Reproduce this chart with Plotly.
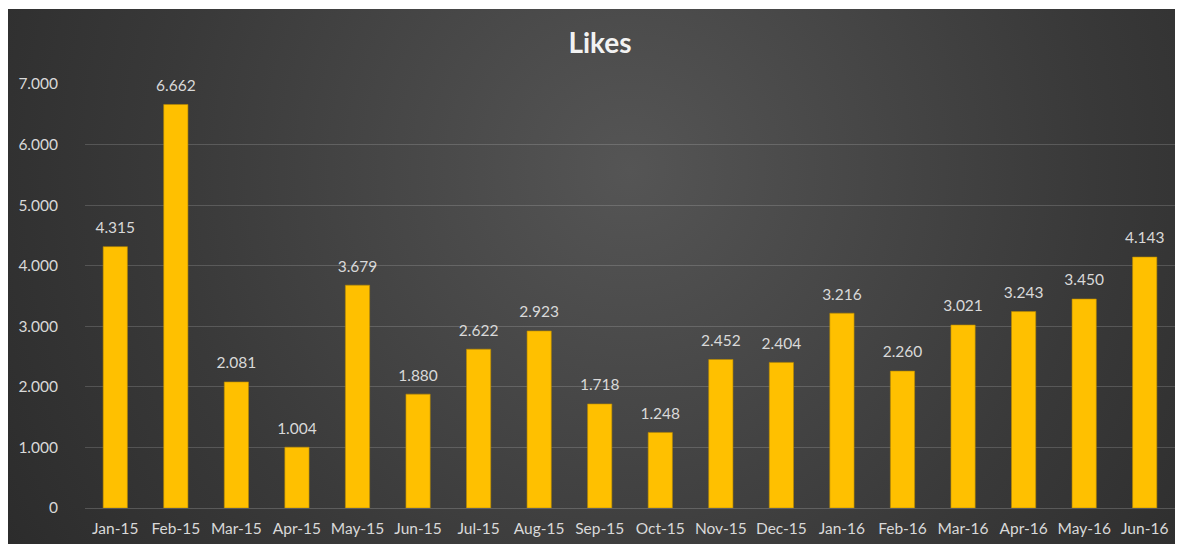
import base64
import plotly.graph_objects as go

months = ["Jan-15", "Feb-15", "Mar-15", "Apr-15", "May-15", "Jun-15", "Jul-15", "Aug-15",
          "Sep-15", "Oct-15", "Nov-15", "Dec-15", "Jan-16", "Feb-16", "Mar-16", "Apr-16",
          "May-16", "Jun-16"]
likes = [4315, 6662, 2081, 1004, 3679, 1880, 2622, 2923, 1718, 1248, 2452, 2404,
         3216, 2260, 3021, 3243, 3450, 4143]
y_ticks = [0, 1000, 2000, 3000, 4000, 5000, 6000, 7000]
y_tick_text = ["0", "1.000", "2.000", "3.000", "4.000", "5.000", "6.000", "7.000"]

# page has an 8px body margin, so the figure is placed at (8, 8)
W, H = 1175, 536
L, R, T, B = 77, 8, 76, 36
PW, PH = W - L - R, H - T - B
box_x0, box_x1, box_y0, box_y1 = 0, 1172, 1, 536

svg = f'''<svg xmlns="http://www.w3.org/2000/svg" width="{box_x1-box_x0}" height="{box_y1-box_y0}" preserveAspectRatio="none">
<defs><radialGradient id="g" cx="0.53" cy="0.3" r="0.72" gradientTransform="translate(0.53,0.3) scale(1,2.2) translate(-0.53,-0.3)">
<stop offset="0" stop-color="#555555"/>
<stop offset="0.55" stop-color="#393939"/>
<stop offset="1" stop-color="#262626"/>
</radialGradient></defs>
<rect width="100%" height="100%" fill="url(#g)"/>
</svg>'''
src = "data:image/svg+xml;base64," + base64.b64encode(svg.encode()).decode()

FONT = "Lato, Open Sans, sans-serif"

fig = go.Figure()
fig.add_trace(go.Bar(
    x=months, y=likes,
    marker=dict(color="#FFC000", line=dict(color="#B88A00", width=0.6)),
    hoverinfo="x+y",
))
fig.add_trace(go.Scatter(
    x=months, y=likes, mode="markers+text",
    marker=dict(size=14, opacity=0),
    text=[f"{v:,}".replace(",", ".") for v in likes], textposition="top center",
    textfont=dict(color="#D9D9D9", size=15.5, family=FONT),
    hoverinfo="skip", cliponaxis=False,
))

fig.update_layout(
    width=W, height=H,
    paper_bgcolor="white", plot_bgcolor="rgba(0,0,0,0)",
    margin=dict(l=L, r=R, t=T, b=B),
    separators=",.",
    bargap=0.6,
    showlegend=False,
    title=dict(text="<b>Likes</b>", x=592 / W, xanchor="center", y=1 - 35 / H, yanchor="middle",
               font=dict(color="#F2F2F2", size=28, family=FONT)),
    font=dict(family=FONT, color="#D9D9D9", size=15.5),
    images=[dict(source=src, xref="paper", yref="paper",
                 x=(box_x0 - L) / PW, y=1 + (T - box_y0) / PH,
                 sizex=(box_x1 - box_x0) / PW, sizey=(box_y1 - box_y0) / PH,
                 xanchor="left", yanchor="top", sizing="stretch", layer="below")],
)
fig.update_xaxes(range=[-0.5, len(months) - 0.5], showgrid=False, showline=True,
                 linecolor="rgba(255,255,255,0.18)", linewidth=1,
                 ticks="", ticklabelstandoff=6, tickfont=dict(size=15.5, color="#D9D9D9"))
fig.update_yaxes(range=[0, 7000], tickvals=y_ticks, ticktext=y_tick_text,
                 showgrid=True, gridcolor="rgba(255,255,255,0.16)", gridwidth=1,
                 zeroline=False, ticks="", ticklabelstandoff=26,
                 tickfont=dict(size=15.5, color="#D9D9D9"))

fig.write_html("out.html")
